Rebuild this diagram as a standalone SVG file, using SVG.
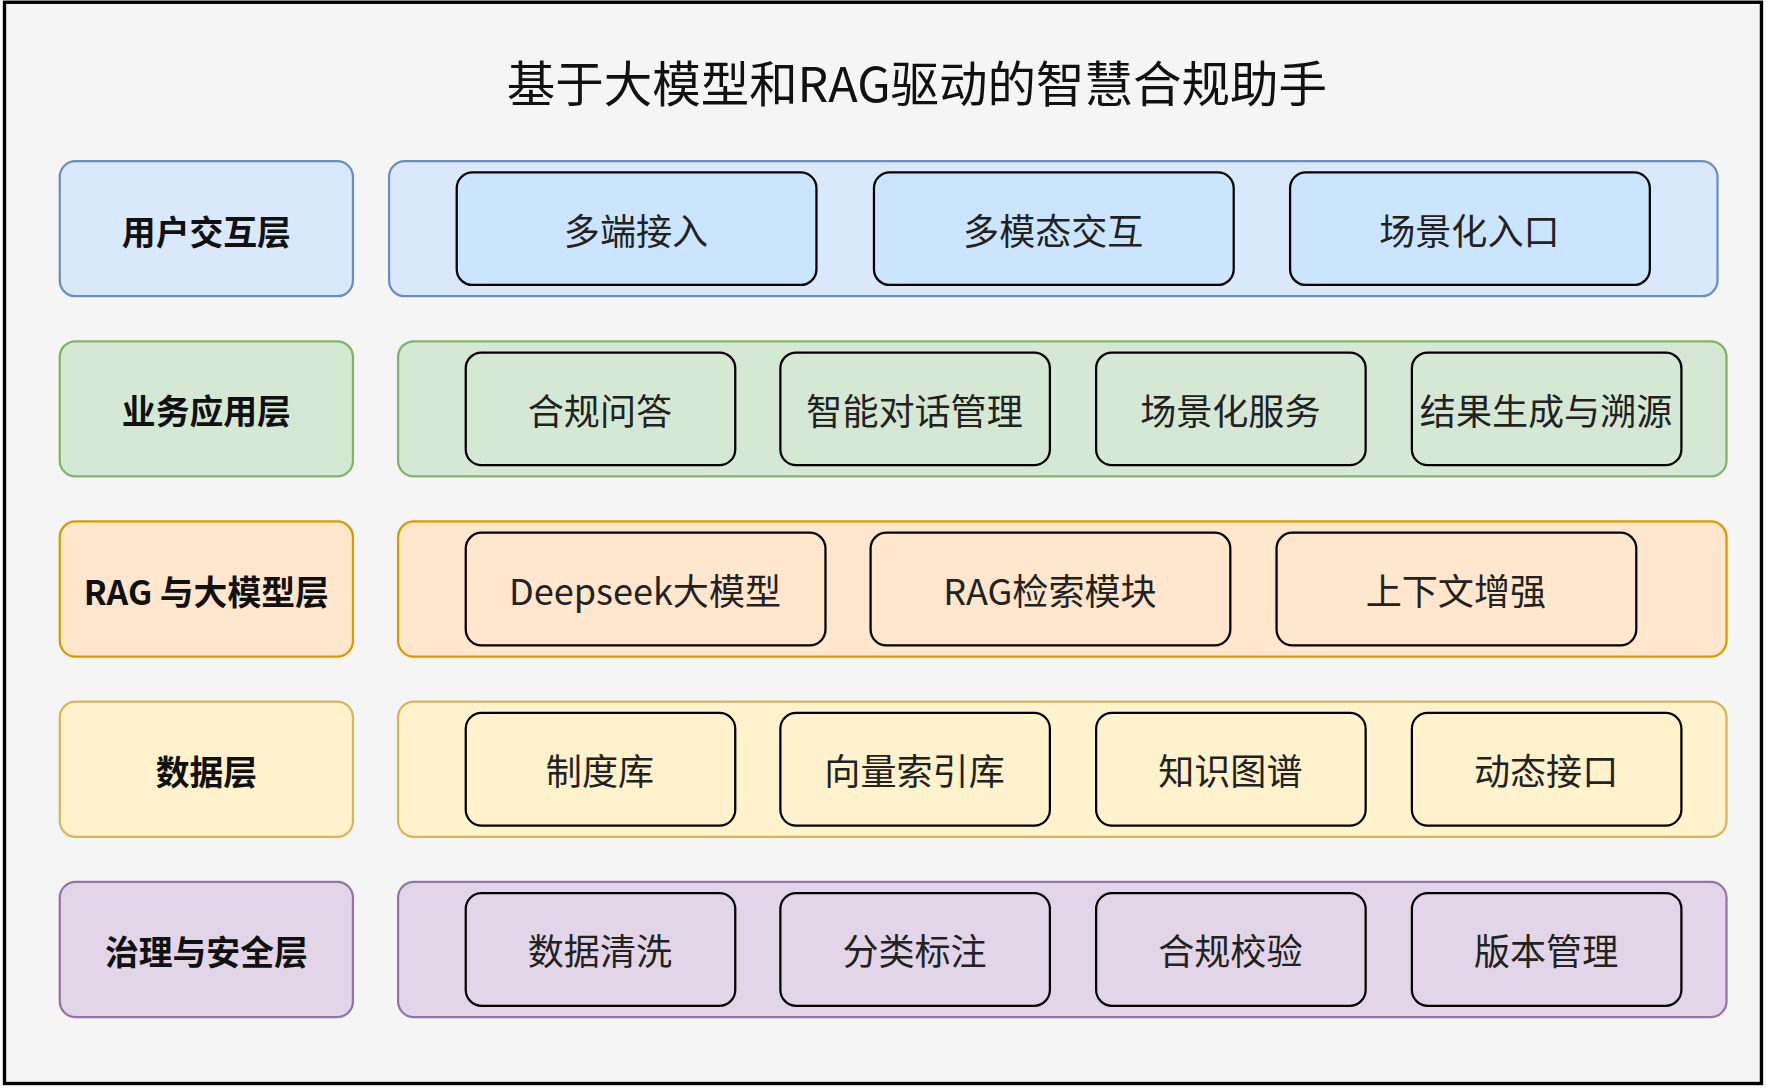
<svg xmlns="http://www.w3.org/2000/svg" width="1766" height="1088" viewBox="0 0 1766 1088">
<style>
.lb{stroke-width:2}
.t{font-family:"Noto Sans CJK SC","Liberation Sans",sans-serif;font-size:32px;text-anchor:middle;dominant-baseline:central;fill:#222}
.b{font-weight:bold;font-size:30px;fill:#111}
.blue{fill:#dae8fc;stroke:#6c8ebf}.blue2{fill:#cce5ff}
.green{fill:#d5e8d4;stroke:#82b366}
.orange{fill:#ffe6cc;stroke:#d79b00}
.yellow{fill:#fff2cc;stroke:#d6b656}
.purple{fill:#e1d5e7;stroke:#9673a6}
.in{stroke:#000;stroke-width:2}
</style>
<rect width="1766" height="1088" fill="#fff"/>
<g transform="scale(1.1277 1.1263)">
<rect x="4" y="2" width="1558" height="960" fill="#f5f5f5" stroke="#000" stroke-width="3"/>
<text x="813" y="72" class="t" style="font-size:43px;fill:#111">基于大模型和RAG驱动的智慧合规助手</text>
<g id="layer1">
<rect x="53" y="143" width="260" height="120" rx="14" class="blue lb"/>
<text x="183" y="205" class="t b">用户交互层</text>
<rect x="345" y="143" width="1178" height="120" rx="14" class="blue lb"/>
<rect x="405" y="153" width="319" height="100" rx="14" class="blue2 in"/><text x="564" y="203" class="t">多端接入</text>
<rect x="775" y="153" width="319" height="100" rx="14" class="blue2 in"/><text x="934" y="203" class="t">多模态交互</text>
<rect x="1144" y="153" width="319" height="100" rx="14" class="blue2 in"/><text x="1303" y="203" class="t">场景化入口</text>
</g>
<g id="layer2">
<rect x="53" y="303" width="260" height="120" rx="14" class="green lb"/>
<text x="183" y="364" class="t b">业务应用层</text>
<rect x="353" y="303" width="1178" height="120" rx="14" class="green lb"/>
<rect x="413" y="313" width="239" height="100" rx="14" class="green in"/><text x="532" y="363" class="t">合规问答</text>
<rect x="692" y="313" width="239" height="100" rx="14" class="green in"/><text x="811" y="363" class="t">智能对话管理</text>
<rect x="972" y="313" width="239" height="100" rx="14" class="green in"/><text x="1091" y="363" class="t">场景化服务</text>
<rect x="1252" y="313" width="239" height="100" rx="14" class="green in"/><text x="1371" y="363" class="t">结果生成与溯源</text>
</g>
<g id="layer3">
<rect x="53" y="463" width="260" height="120" rx="14" class="orange lb"/>
<text x="183" y="524" class="t b">RAG 与大模型层</text>
<rect x="353" y="463" width="1178" height="120" rx="14" class="orange lb"/>
<rect x="413" y="473" width="319" height="100" rx="14" class="orange in"/><text x="572" y="523" class="t">Deepseek大模型</text>
<rect x="772" y="473" width="319" height="100" rx="14" class="orange in"/><text x="931" y="523" class="t">RAG检索模块</text>
<rect x="1132" y="473" width="319" height="100" rx="14" class="orange in"/><text x="1291" y="523" class="t">上下文增强</text>
</g>
<g id="layer4">
<rect x="53" y="623" width="260" height="120" rx="14" class="yellow lb"/>
<text x="183" y="684" class="t b">数据层</text>
<rect x="353" y="623" width="1178" height="120" rx="14" class="yellow lb"/>
<rect x="413" y="633" width="239" height="100" rx="14" class="yellow in"/><text x="532" y="683" class="t">制度库</text>
<rect x="692" y="633" width="239" height="100" rx="14" class="yellow in"/><text x="811" y="683" class="t">向量索引库</text>
<rect x="972" y="633" width="239" height="100" rx="14" class="yellow in"/><text x="1091" y="683" class="t">知识图谱</text>
<rect x="1252" y="633" width="239" height="100" rx="14" class="yellow in"/><text x="1371" y="683" class="t">动态接口</text>
</g>
<g id="layer5">
<rect x="53" y="783" width="260" height="120" rx="14" class="purple lb"/>
<text x="183" y="844" class="t b">治理与安全层</text>
<rect x="353" y="783" width="1178" height="120" rx="14" class="purple lb"/>
<rect x="413" y="793" width="239" height="100" rx="14" class="purple in"/><text x="532" y="843" class="t">数据清洗</text>
<rect x="692" y="793" width="239" height="100" rx="14" class="purple in"/><text x="811" y="843" class="t">分类标注</text>
<rect x="972" y="793" width="239" height="100" rx="14" class="purple in"/><text x="1091" y="843" class="t">合规校验</text>
<rect x="1252" y="793" width="239" height="100" rx="14" class="purple in"/><text x="1371" y="843" class="t">版本管理</text>
</g>
<g id="connectors"/>
</g>
</svg>
